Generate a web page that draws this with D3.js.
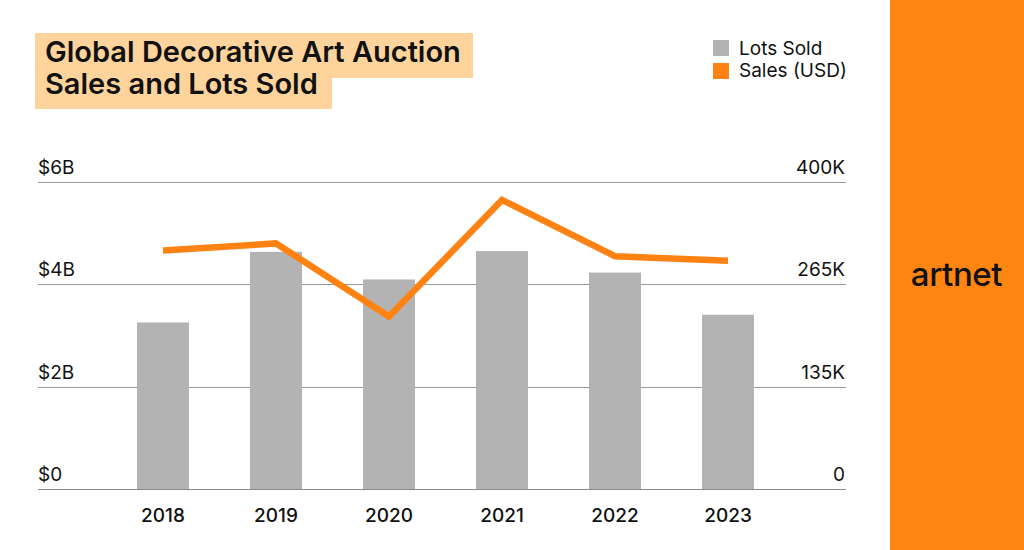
<!DOCTYPE html>
<html><head><meta charset="utf-8">
<script src="https://cdn.jsdelivr.net/npm/d3@7"></script>
<style>body{margin:0;background:#fff;}svg{display:block;font-family:Inter,"Liberation Sans",Arial,sans-serif;}</style>
</head><body>
<svg id="c" width="1024" height="550"></svg>
<script>
const years = ["2018","2019","2020","2021","2022","2023"];
const lotsSold = [217000, 309000, 273000, 310000, 282000, 227000];
const salesUSD = [4.66e9, 4.80e9, 3.37e9, 5.65e9, 4.55e9, 4.46e9];
const leftTicks = [0, 2e9, 4e9, 6e9];
const leftTickLabels = ["$0", "$2B", "$4B", "$6B"];
const rightTickLabels = ["0", "135K", "265K", "400K"];
const titleLines = ["Global Decorative Art Auction", "Sales and Lots Sold"];
const legendItems = ["Lots Sold", "Sales (USD)"];

const svg = d3.select("#c");
const ORANGE = "#ff8212", BAR = "#b3b3b3";

// right brand panel
svg.append("rect").attr("x", 890).attr("y", 0).attr("width", 134).attr("height", 550).attr("fill", "#ff8513");
svg.append("text").attr("x", 956.5).attr("y", 286).attr("text-anchor", "middle")
  .attr("font-size", 33).attr("font-weight", 500).attr("letter-spacing", -0.4).attr("fill", "#111").text("artnet");

// scales
const x = d3.scaleBand().domain(years).range([106.5, 784.5]).paddingInner(0.54).paddingOuter(0.27);
const yL = d3.scaleLinear().domain([0, 6e9]).range([489, 182]);
const yR = d3.scaleLinear().domain([0, 400000]).range([489, 182]);

// gridlines
const grid = svg.append("g");
grid.selectAll("line").data(leftTicks).join("line")
  .attr("x1", 38).attr("x2", 846)
  .attr("y1", d => Math.round(yL(d)) + 0.5).attr("y2", d => Math.round(yL(d)) + 0.5)
  .attr("stroke", "#9a9a9a").attr("stroke-width", 1);

// bars
svg.append("g").selectAll("rect").data(years).join("rect")
  .attr("x", d => x(d) + x.bandwidth()/2 - 26)
  .attr("width", 52)
  .attr("y", (d, i) => yR(lotsSold[i]))
  .attr("height", (d, i) => yR(0) - yR(lotsSold[i]))
  .attr("fill", BAR);

svg.append("line").attr("x1", 38).attr("x2", 846).attr("y1", 489.5).attr("y2", 489.5).attr("stroke", "#8a8a8a");

// line
const line = d3.line().x((d, i) => x(years[i]) + x.bandwidth()/2).y(d => yL(d));
svg.append("path").datum(salesUSD).attr("d", line)
  .attr("fill", "none").attr("stroke", ORANGE).attr("stroke-width", 6.5)
  .attr("stroke-linejoin", "miter").attr("stroke-linecap", "butt");

// left tick labels
svg.append("g").selectAll("text").data(leftTicks).join("text")
  .attr("x", 38).attr("y", d => yL(d) - 8)
  .attr("font-size", 19).attr("fill", "#111")
  .text((d, i) => leftTickLabels[i]);
// right tick labels
svg.append("g").selectAll("text").data(leftTicks).join("text")
  .attr("x", 845).attr("y", d => yL(d) - 8).attr("text-anchor", "end")
  .attr("font-size", 19).attr("fill", "#111")
  .text((d, i) => rightTickLabels[i]);

// x labels
svg.append("g").selectAll("text").data(years).join("text")
  .attr("x", d => x(d) + x.bandwidth()/2).attr("y", 522).attr("text-anchor", "middle")
  .attr("font-size", 19).attr("font-weight", 500).attr("fill", "#111").text(d => d);

// title highlight
svg.append("path").attr("d", "M35,33H473V78H332V109H35Z").attr("fill", "#fed49c");
svg.append("g").selectAll("text").data(titleLines).join("text")
  .attr("x", 45).attr("y", (d, i) => 62 + i * 32)
  .attr("font-size", 29).attr("font-weight", 600).attr("fill", "#111").attr("letter-spacing", 0)
  .text(d => d);

// legend
const lg = svg.append("g");
lg.selectAll("rect").data(legendItems).join("rect")
  .attr("x", 713).attr("y", (d, i) => 40 + i * 23).attr("width", 16).attr("height", 16)
  .attr("fill", (d, i) => i === 0 ? BAR : ORANGE);
lg.selectAll("text").data(legendItems).join("text")
  .attr("x", 739).attr("y", (d, i) => 55 + i * 22).attr("font-size", 19).attr("fill", "#111")
  .text(d => d);
</script>
</body></html>
